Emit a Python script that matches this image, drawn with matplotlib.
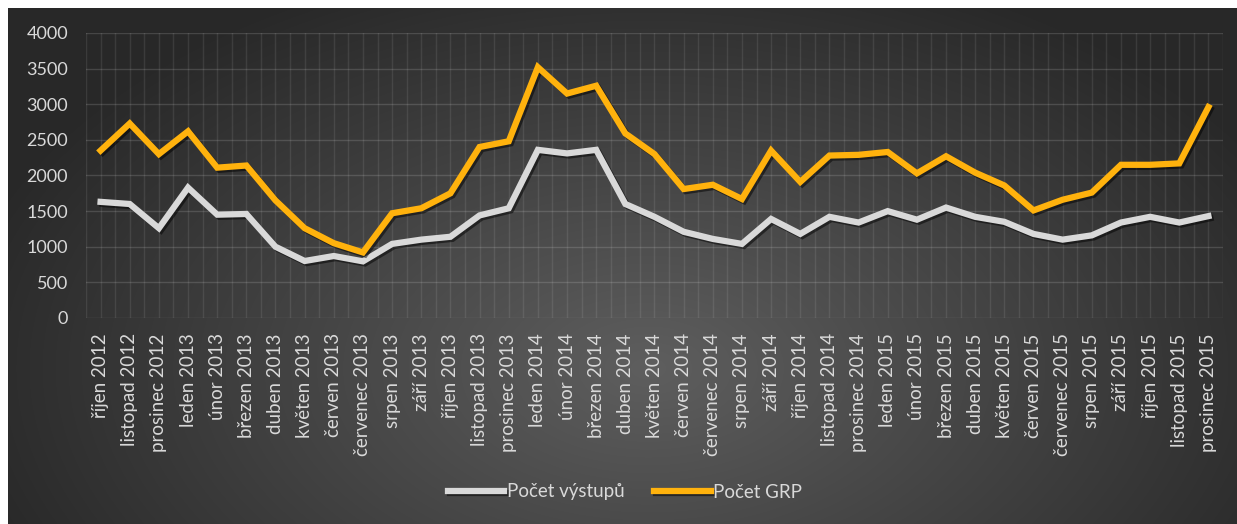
import matplotlib.pyplot as plt
import matplotlib.patheffects as pe
import numpy as np

# měsíce říjen 2012 - prosinec 2015
months = ['říjen 2012', 'listopad 2012', 'prosinec 2012',
          'leden 2013', 'únor 2013', 'březen 2013', 'duben 2013', 'květen 2013', 'červen 2013',
          'červenec 2013', 'srpen 2013', 'září 2013', 'říjen 2013', 'listopad 2013', 'prosinec 2013',
          'leden 2014', 'únor 2014', 'březen 2014', 'duben 2014', 'květen 2014', 'červen 2014',
          'červenec 2014', 'srpen 2014', 'září 2014', 'říjen 2014', 'listopad 2014', 'prosinec 2014',
          'leden 2015', 'únor 2015', 'březen 2015', 'duben 2015', 'květen 2015', 'červen 2015',
          'červenec 2015', 'srpen 2015', 'září 2015', 'říjen 2015', 'listopad 2015', 'prosinec 2015']

vystupy = [1630, 1600, 1260, 1830, 1450, 1460, 1000, 800, 870,
           795, 1040, 1100, 1140, 1440, 1540, 2360, 2310, 2360,
           1600, 1420, 1210, 1110, 1040, 1390, 1180, 1420, 1340,
           1500, 1380, 1550, 1420, 1350, 1180, 1100, 1160, 1340,
           1420, 1340, 1430]

grp = [2350, 2730, 2300, 2620, 2110, 2140, 1650, 1260, 1050,
       920, 1470, 1540, 1750, 2400, 2480, 3520, 3150, 3260,
       2590, 2300, 1810, 1870, 1670, 2350, 1910, 2280, 2290,
       2330, 2030, 2270, 2040, 1860, 1510, 1660, 1760, 2150,
       2150, 2170, 2960]

plt.rcParams['font.family'] = ['Lato', 'DejaVu Sans']
txt_color = '#d9d9d9'

W, H = 1237, 524
fig = plt.figure(figsize=(W / 100, H / 100), dpi=100)
fig.patch.set_facecolor('white')

# tmavy panel s radialnim prechodem
bg = fig.add_axes([8 / W, 0, 1 - 8 / W, 1 - 8 / H])
bg.set_axis_off()
yy, xx = np.mgrid[0:516, 0:1229]
cx, cy = 640, 360
r = np.sqrt(((xx - cx) / 700.0) ** 2 + ((yy - cy) / 420.0) ** 2)
r = np.clip(r, 0, 1)
shade = 0.37 - 0.21 * r
img = np.dstack([shade, shade, shade])
bg.imshow(img, aspect='auto', extent=[0, 1, 0, 1], origin='upper')
bg.set_xlim(0, 1)
bg.set_ylim(0, 1)

ax = fig.add_axes([86 / W, 1 - 318 / H, (1223 - 86) / W, (318 - 33) / H])
ax.patch.set_alpha(0)

x = np.arange(len(months))
shadow = [pe.SimpleLineShadow(offset=(1.5, -1.5), shadow_color='black', alpha=0.5), pe.Normal()]
ax.plot(x, vystupy, color='#d9d9d9', lw=4.5, solid_joinstyle='miter',
        label='Počet výstupů', path_effects=shadow, zorder=3)
ax.plot(x, grp, color='#ffb20d', lw=4.5, solid_joinstyle='miter',
        label='Počet GRP', path_effects=shadow, zorder=4)

ax.set_xlim(-0.5, len(months) - 0.5)
ax.set_ylim(0, 4000)
ax.set_yticks(np.arange(0, 4001, 500))
ax.set_xticks(x)
ax.set_xticklabels(months, rotation=90, fontsize=13.5, color=txt_color)
ax.tick_params(axis='y', labelsize=13, colors=txt_color, length=0, pad=13)
ax.tick_params(axis='x', length=0, pad=11)

# mrizka: vodorovne po 500, svisle po pul kategorie
for v in np.arange(0, 4001, 500):
    ax.axhline(v, color='white', alpha=0.14, lw=1, zorder=1)
for v in np.arange(-0.5, len(months), 0.5):
    ax.axvline(v, color='white', alpha=0.09, lw=1, zorder=1)
for s in ax.spines.values():
    s.set_visible(False)

leg = fig.legend(loc='center', bbox_to_anchor=(625 / W, 1 - 492 / H), ncol=2,
                 frameon=False, fontsize=13.5, handlelength=3.0, columnspacing=1.6,
                 handletextpad=0.15)
for t in leg.get_texts():
    t.set_color(txt_color)

fig.savefig('out.png', dpi=100)
